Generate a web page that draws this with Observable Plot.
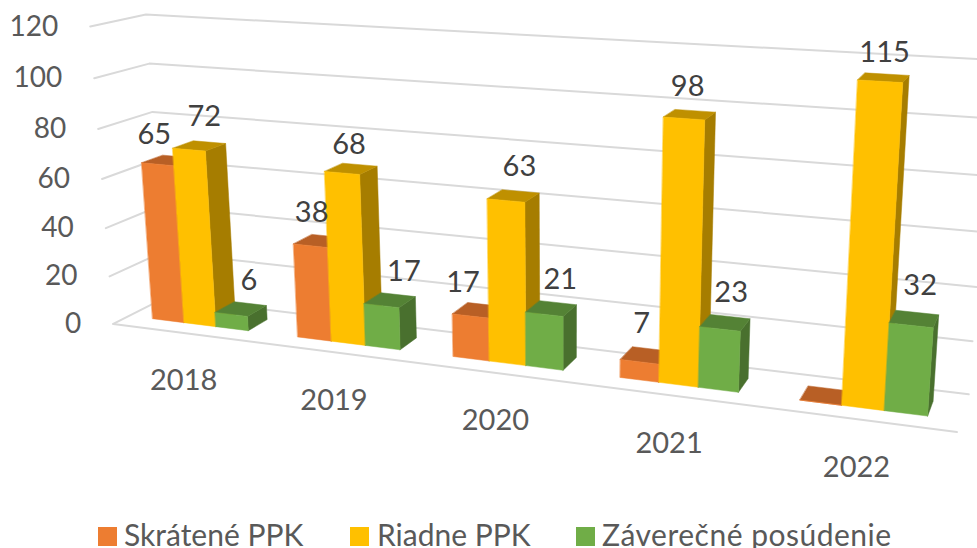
<!DOCTYPE html>
<html><head><meta charset="utf-8">
<style>
html,body{margin:0;padding:0;background:#fff;overflow:hidden;width:977px;height:548px}
#chart svg{display:block;overflow:hidden}
#legend{position:relative;height:28px;font:30px/28px Lato,sans-serif;color:#595959}
#legend span{position:absolute;top:0;white-space:nowrap}
#legend i{position:absolute;top:7px;width:19px;height:19px}
</style>
<script src="https://cdn.jsdelivr.net/npm/d3@7"></script>
<script src="https://cdn.jsdelivr.net/npm/@observablehq/plot@0.6"></script>
</head><body>
<div id="chart"></div>
<div id="legend"></div>
<script>
const years = ["2018","2019","2020","2021","2022"];
const seriesNames = ["Skrátené PPK","Riadne PPK","Záverečné posúdenie"];
const skratene = [65,38,17,7,0];
const riadne = [72,68,63,98,115];
const zaverecne = [6,17,21,23,32];
const valueTicks = [0,20,40,60,80,100,120];

const faceColors = [
  {front:"#ED7D31", top:"#B85F25", side:"#A9561F"},
  {front:"#FFC000", top:"#BF9000", side:"#A67D00"},
  {front:"#70AD47", top:"#548235", side:"#49702E"}
];
// Excel nudges 3-D data labels away from the bar top, differently for each one.
const labelNudgeX = [[-14,-8,-15,-4,0],[5,-2,6,-2,1],[8,14,9,6,6]];
const labelNudgeY = [[-26,-28,-28,-32,0],[-29,-24,-29,-28,-25],[-28,-28,-29,-30,-33]];

// Camera of the 3-D box: floor position u, depth d, value v seen at pixel x, y.
const sightings = [
  [0,0,0,113,323],[1,0,0,957,432],[0,1,0,166,298],[1,1,0,968,394],
  [0,0,120,90,26],[0,0,100,94,78],[0,0,80,97,129],[0,0,40,105,228],
  [0,1,120,145,14],[0,1,100,148,63],[0,1,80,152,111],
  [1,1,120,992,59],[1,1,20,972,341],
  [.0778,.3,72,173,147],[.0778,.3,0,183,322],[.1222,.3,72,206,151],[.1222,.3,0,214,326],
  [.4778,.3,63,487,198],[.4778,.3,0,489,360],[.5222,.3,63,525,202],[.5222,.3,0,525,365],
  [.6778,.3,98,663,117],[.6778,.3,0,658,382],[.7222,.3,98,704,119],[.7222,.3,0,698,387],
  [.8778,.3,115,857,80],[.8778,.3,0,841,404],[.9222,.3,115,902,82],[.9222,.3,0,884,410]
];
function solve(A,b){
  const n=b.length, M=A.map((r,i)=>[...r,b[i]]);
  for(let c=0;c<n;c++){
    let p=c; for(let r=c+1;r<n;r++) if(Math.abs(M[r][c])>Math.abs(M[p][c])) p=r;
    [M[c],M[p]]=[M[p],M[c]];
    for(let r=0;r<n;r++) if(r!==c){const f=M[r][c]/M[c][c]; for(let k=c;k<=n;k++) M[r][k]-=f*M[c][k];}
  }
  return M.map((r,i)=>r[n]/r[i]);
}
const cam=(()=>{
  const rows=[],rhs=[];
  for(const [u,d,v0,x0,y0] of sightings){
    const v=v0/120,x=x0/1000,y=y0/1000;
    rows.push([1,u,d,v,0,0,0,0,-x*u,-x*d,-x*v]); rhs.push(x);
    rows.push([0,0,0,0,1,u,d,v,-y*u,-y*d,-y*v]); rhs.push(y);
  }
  const N=11,A=d3.range(N).map(i=>d3.range(N).map(j=>d3.sum(rows,r=>r[i]*r[j])));
  const b=d3.range(N).map(i=>d3.sum(rows,(r,k)=>r[i]*rhs[k]));
  return solve(A,b);
})();
function project(u,d,val){
  const v=val/120, w=1+cam[8]*u+cam[9]*d+cam[10]*v;
  return [1000*(cam[0]+cam[1]*u+cam[2]*d+cam[3]*v)/w, 1000*(cam[4]+cam[5]*u+cam[6]*d+cam[7]*v)/w];
}

// Excel's gap width and gap depth of 150 %
const barW=1/(3+1.5), d0=.3, d1=.7;
const uOf=(i,k)=>(i+.75*barW+k*barW)/years.length;
const uStep=barW/years.length;

const faces=[];
function face(id,color,corners){corners.forEach(c=>{const [x,y]=project(...c);faces.push({id,color,x,y});});}
const seriesVals=[skratene,riadne,zaverecne];
years.forEach((yr,i)=>{
  seriesVals.forEach((vals,k)=>{
    const a=uOf(i,k),b=a+uStep,v=vals[i],c=faceColors[k];
    face(`${i}-${k}-side`,c.side,[[b,d0,0],[b,d1,0],[b,d1,v],[b,d0,v]]);
    face(`${i}-${k}-top`,c.top,[[a,d0,v],[b,d0,v],[b,d1,v],[a,d1,v]]);
    face(`${i}-${k}-front`,c.front,[[a,d0,0],[b,d0,0],[b,d0,v],[a,d0,v]]);
  });
});
const grid=[];
valueTicks.forEach(v=>{[[0,0,v],[0,1,v],[1,1,v]].forEach(c=>{const [x,y]=project(...c);grid.push({z:v,x,y});});});
[[0,0,0],[1,0,0]].forEach(c=>{const [x,y]=project(...c);grid.push({z:"front",x,y});});

const labels=[];
seriesVals.forEach((vals,k)=>vals.forEach((v,i)=>{
  if(v>0){const [x,y]=project(uOf(i,k)+uStep/2,.5,v);labels.push({v,x:x+labelNudgeX[k][i],y:y+labelNudgeY[k][i]});}
}));
const tickPts=valueTicks.map(v=>{const [x,y]=project(0,0,v);return{v,x,y};});
const yearPts=years.map((yr,i)=>{const [x,y]=project((i+.5)/years.length,0,0);return{yr,x,y};});

const font="Lato, sans-serif";
const plot=Plot.plot({
  width:977,height:520,margin:0,
  x:{type:"identity",axis:null},y:{type:"identity",axis:null},
  marks:[
    Plot.line(grid,{x:"x",y:"y",z:"z",stroke:"#d9d9d9",strokeWidth:2}),
    Plot.line(faces,{x:"x",y:"y",z:"id",fill:"color",stroke:"color",strokeWidth:.5,curve:"linear-closed"}),
    Plot.text(tickPts,{x:"x",y:"y",text:d=>String(d.v),textAnchor:"end",dx:-32,fontSize:28,fontFamily:font,fill:"#595959"}),
    Plot.text(yearPts,{x:"x",y:"y",text:"yr",dx:-1,dy:48,fontSize:29,fontFamily:font,fill:"#595959"}),
    Plot.text(labels,{x:"x",y:"y",text:d=>String(d.v),fontSize:29,fontFamily:font,fill:"#404040"})
  ]
});
document.getElementById("chart").append(plot);
const legendAt=[98,350,576];
const legendText=[124,377,602];
const legendSpacing=["0","0",".5px"];
const lg=document.getElementById("legend");
seriesNames.forEach((n,k)=>{
  const i=document.createElement("i");i.style.left=legendAt[k]+"px";i.style.background=faceColors[k].front;lg.append(i);
  const s=document.createElement("span");s.style.left=legendText[k]+"px";s.style.letterSpacing=legendSpacing[k];s.textContent=n;lg.append(s);
});
</script>
</body></html>
